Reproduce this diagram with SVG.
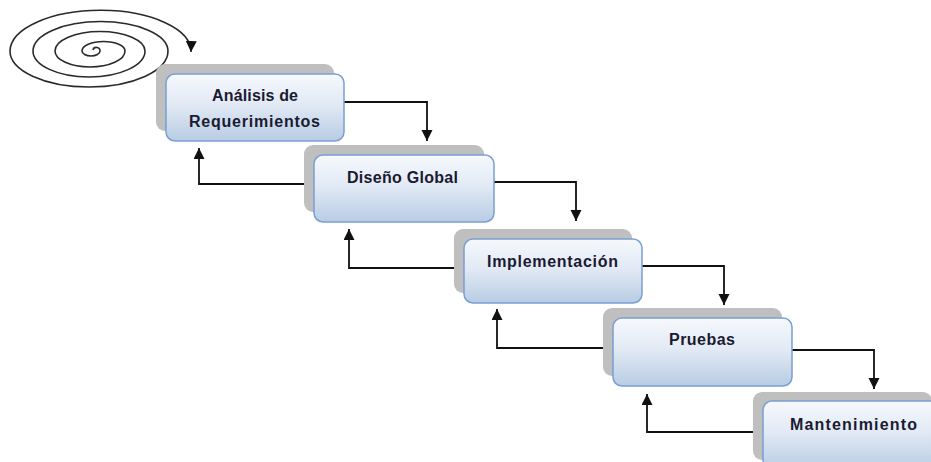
<svg xmlns="http://www.w3.org/2000/svg" width="931" height="462" viewBox="0 0 931 462">
  <defs>
    <linearGradient id="boxFill" x1="0" y1="0" x2="0" y2="1">
      <stop offset="0" stop-color="#f6f9fd"/>
      <stop offset="0.45" stop-color="#e2eaf5"/>
      <stop offset="1" stop-color="#b8cce4"/>
    </linearGradient>
    <marker id="arrow" markerUnits="userSpaceOnUse" markerWidth="12" markerHeight="12" refX="11" refY="5.5" orient="auto">
      <path d="M0,0 L11,5.5 L0,11 z" fill="#111"/>
    </marker>
  </defs>
  <style>
    .shadow { fill: #bfbfbf; }
    .box { fill: url(#boxFill); stroke: #7a9fd3; stroke-width: 1.5; }
    .label { font-family: "Liberation Sans", Arial, sans-serif; font-weight: bold; font-size: 16px; fill: #1a1a30; text-anchor: middle; }
    .conn { fill: none; stroke: #111; stroke-width: 1.8; marker-end: url(#arrow); }
    .spiral { fill: none; stroke: #2a2a2a; stroke-width: 1.6; marker-end: url(#arrow); }
  </style>

  <rect width="931" height="462" fill="#ffffff"/>

  <!-- spiral with arrow -->
  <g id="spiral">
    <path class="spiral" d="M 93,50 A 3.5,3 0 0 1 100,51 A 9,5 0 0 1 82,51 A 21.5,9.5 0 0 1 125,51 A 35,16 0 0 1 55,51 A 45,19.5 0 0 1 145,51 A 56,26 0 0 1 33,51 A 67.5,29.5 0 0 1 168,51 A 79,36 0 0 1 10,51 A 90,41 0 0 1 191,52"/>
  </g>

  <!-- connectors -->
  <g id="connectors">
    <path class="conn" d="M 344,102 H 427 V 141"/>
    <path class="conn" d="M 494,182 H 576 V 221"/>
    <path class="conn" d="M 642,266 H 724 V 305"/>
    <path class="conn" d="M 791,350 H 874 V 389"/>
    <path class="conn" d="M 306,184 H 199 V 148"/>
    <path class="conn" d="M 456,268 H 349 V 229"/>
    <path class="conn" d="M 605,348 H 497 V 309"/>
    <path class="conn" d="M 755,432 H 647 V 394"/>
  </g>

  <g id="analisis">
    <rect class="shadow" x="156" y="64" width="178" height="67" rx="9"/>
    <rect class="box" x="166" y="74" width="178" height="67" rx="9"/>
    <text class="label" x="255" y="101" textLength="86" lengthAdjust="spacing">Análisis de</text>
    <text class="label" x="254.5" y="127" textLength="131" lengthAdjust="spacing">Requerimientos</text>
  </g>

  <g id="diseno">
    <rect class="shadow" x="304" y="145" width="180" height="67" rx="9"/>
    <rect class="box" x="314" y="155" width="180" height="67" rx="9"/>
    <text class="label" x="402.5" y="183" textLength="111" lengthAdjust="spacing">Diseño Global</text>
  </g>

  <g id="implementacion">
    <rect class="shadow" x="454" y="229" width="178" height="64" rx="9"/>
    <rect class="box" x="464" y="239" width="178" height="64" rx="9"/>
    <text class="label" x="552.5" y="267" textLength="131" lengthAdjust="spacing">Implementación</text>
  </g>

  <g id="pruebas">
    <rect class="shadow" x="603" y="308" width="179" height="68" rx="9"/>
    <rect class="box" x="613" y="318" width="179" height="68" rx="9"/>
    <text class="label" x="702" y="345" textLength="66" lengthAdjust="spacing">Pruebas</text>
  </g>

  <g id="mantenimiento">
    <rect class="shadow" x="753" y="392" width="179" height="68" rx="9"/>
    <rect class="box" x="763" y="401" width="179" height="68" rx="9"/>
    <text class="label" x="853.5" y="430" textLength="127" lengthAdjust="spacing">Mantenimiento</text>
  </g>
</svg>
